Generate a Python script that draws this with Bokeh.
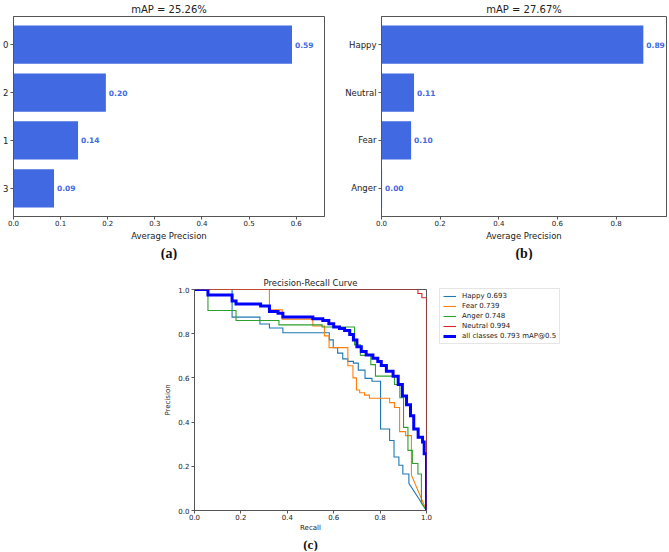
from bokeh.plotting import figure
from bokeh.models import (FactorRange, Range1d, Title, Legend, LegendItem,
                          PrintfTickFormatter, FixedTicker, Spacer, ColumnDataSource)
from bokeh.layouts import row, column
from bokeh.embed import file_html
from bokeh.resources import INLINE
from bokeh.core.properties import value

# ---------------- data ----------------
# (a) average precision per class id
a_classes = ["0", "2", "1", "3"]
a_ap = [0.591, 0.196, 0.137, 0.086]
a_title = "mAP = 25.26%"
a_ticks = [0.0, 0.1, 0.2, 0.3, 0.4, 0.5, 0.6]
a_xmax = 0.66

# (b) average precision per emotion
b_classes = ["Happy", "Neutral", "Fear", "Anger"]
b_ap = [0.893, 0.111, 0.101, 0.002]
b_title = "mAP = 27.67%"
b_ticks = [0.0, 0.2, 0.4, 0.6, 0.8]
b_xmax = 0.972

# (c) precision-recall curves (step breakpoints: recall where precision changes)
pr_names = ["Happy", "Fear", "Anger", "Neutral", "all classes"]
pr_ap = [0.693, 0.739, 0.748, 0.994, 0.793]

happy_r = [0, 0.162, 0.282, 0.323, 0.381, 0.581, 0.598, 0.617, 0.639, 0.661, 0.685,
           0.706, 0.735, 0.765, 0.802, 0.841, 0.860, 0.881, 0.898, 0.924, 1.0]
happy_p = [1.0, 0.875, 0.844, 0.826, 0.804, 0.772, 0.737, 0.712, 0.686, 0.675, 0.667,
           0.635, 0.598, 0.585, 0.369, 0.317, 0.242, 0.205, 0.165, 0.123, 0.0]

fear_r = [0, 0.323, 0.378, 0.51, 0.56, 0.58, 0.661, 0.683, 0.698, 0.712, 0.733, 0.754,
          0.841, 0.862, 0.884, 0.91, 0.935, 1.0]
fear_p = [1.0, 0.908, 0.866, 0.835, 0.79, 0.737, 0.655, 0.6, 0.545, 0.533, 0.522, 0.508,
          0.488, 0.466, 0.357, 0.339, 0.16, 0.0]

anger_r = [0, 0.058, 0.179, 0.364, 0.55, 0.69, 0.715, 0.76, 0.78, 0.862, 0.885, 0.901,
           0.92, 0.939, 0.963, 0.978, 1.0]
anger_p = [1.0, 0.905, 0.86, 0.84, 0.83, 0.75, 0.702, 0.66, 0.608, 0.57, 0.51, 0.376,
           0.272, 0.213, 0.165, 0.034, 0.0]

neutral_r = [0, 0.963, 0.98, 1.0]
neutral_p = [1.0, 0.982, 0.963, 0.0]

all_r = [0, 0.058, 0.162, 0.179, 0.285, 0.323, 0.36, 0.381, 0.51, 0.553, 0.579, 0.60,
         0.625, 0.647, 0.669, 0.685, 0.70, 0.719, 0.74, 0.769, 0.79, 0.805, 0.827, 0.856,
         0.878, 0.896, 0.914, 0.931, 0.945, 0.964, 0.983, 0.99, 1.0]
all_p = [1.0, 0.975, 0.948, 0.934, 0.925, 0.9, 0.893, 0.876, 0.868, 0.86, 0.845, 0.83,
         0.823, 0.815, 0.796, 0.771, 0.741, 0.719, 0.704, 0.689, 0.674, 0.656, 0.63, 0.607,
         0.57, 0.518, 0.478, 0.429, 0.369, 0.332, 0.31, 0.257, 0.0]

pr_ticks = [0.0, 0.2, 0.4, 0.6, 0.8, 1.0]

BAR = "#4169e1"
AXC = "#555555"
TXT = "#222222"
FONT = "DejaVu Sans"


def style_axes(p, xsize, ysize):
    for ax in (p.xaxis[0], p.yaxis[0]):
        ax.axis_line_color = AXC
        ax.major_tick_line_color = AXC
        ax.minor_tick_line_color = None
        ax.major_tick_out = 3
        ax.major_tick_in = 0
        ax.major_label_standoff = 2
        ax.major_label_text_font = FONT
        ax.major_label_text_color = TXT
        ax.axis_label_text_font = FONT
        ax.axis_label_text_font_style = "normal"
        ax.axis_label_text_color = TXT
    p.xaxis.major_label_text_font_size = xsize
    p.yaxis.major_label_text_font_size = ysize
    p.xaxis.major_label_standoff = 0
    p.xgrid.visible = False
    p.ygrid.visible = False
    p.outline_line_color = AXC
    p.outline_line_alpha = 1.0
    p.title.align = "center"
    p.title.text_font = FONT
    p.title.text_font_style = "normal"
    p.title.text_color = TXT
    p.title.standoff = 3


def bar_panel(classes, ap, title, xmax, xticks, caption, lb, fw, rb):
    p = figure(
        y_range=FactorRange(factors=classes[::-1], range_padding=0.09,
                            range_padding_units="absolute"),
        x_range=Range1d(0, xmax),
        frame_width=fw, frame_height=200,
        min_border_left=lb, min_border_right=rb, min_border_top=0, min_border_bottom=0,
        output_backend="svg", toolbar_location=None, title=title,
    )
    src = ColumnDataSource(dict(cls=classes, ap=ap, lbl=[f"{v:.2f}" for v in ap]))
    p.hbar(y="cls", left=0, right="ap", height=0.8, source=src,
           fill_color=BAR, line_color=None)
    p.text(x="ap", y="cls", text="lbl", source=src, x_offset=3,
           text_baseline="middle", text_align="left",
           text_font=value(FONT), text_font_style="bold",
           text_font_size="7.5px", text_color=BAR)
    style_axes(p, "7px", "8.5px")
    p.title.text_font_size = "10px"
    p.xaxis.ticker = FixedTicker(ticks=xticks)
    p.xaxis.formatter = PrintfTickFormatter(format="%.1f")
    p.xaxis.axis_label = "Average Precision"
    p.xaxis.axis_label_text_font_size = "8.5px"
    p.xaxis.axis_label_standoff = 2
    p.add_layout(Title(text=caption, align="center", text_font="Liberation Serif",
                       text_font_style="bold", text_font_size="14px",
                       text_color="#111111", standoff=0), "below")
    return p


pa = bar_panel(a_classes, a_ap, a_title, a_xmax, a_ticks, "(a)", 11, 311, 15)
pb = bar_panel(b_classes, b_ap, b_title, b_xmax, b_ticks, "(b)", 42, 285, 3)


def pr_path(r, p, linear_tail):
    xs, ys = [r[0]], [p[0]]
    n = len(r)
    last = n - 1 if linear_tail else n
    for i in range(1, last):
        xs += [r[i], r[i]]
        ys += [p[i - 1], p[i]]
    if linear_tail:
        xs.append(r[-1])
        ys.append(p[-1])
    return xs, ys


FH = 221
pc = figure(
    x_range=Range1d(0, 1), y_range=Range1d(0, 1),
    frame_width=232, frame_height=FH,
    min_border_left=0, min_border_right=0, min_border_top=0, min_border_bottom=0,
    output_backend="svg", toolbar_location=None, title="Precision-Recall Curve",
)
style_axes(pc, "7px", "7px")
pc.title.text_font_size = "8.5px"
pc.xaxis.ticker = FixedTicker(ticks=pr_ticks)
pc.yaxis.ticker = FixedTicker(ticks=pr_ticks)
pc.xaxis.formatter = PrintfTickFormatter(format="%.1f")
pc.yaxis.formatter = PrintfTickFormatter(format="%.1f")
pc.xaxis.axis_label = "Recall"
pc.yaxis.axis_label = "Precision"
pc.xaxis.axis_label_text_font_size = "7px"
pc.yaxis.axis_label_text_font_size = "7px"
pc.xaxis.axis_label_standoff = 1
pc.yaxis.axis_label_standoff = 3

curves = [
    (happy_r, happy_p, True, "#1f77b4", 1.1),
    (fear_r, fear_p, True, "#ff7f0e", 1.1),
    (anger_r, anger_p, True, "#2ca02c", 1.1),
    (neutral_r, neutral_p, False, "#d62728", 1.1),
    (all_r, all_p, False, "#0000ff", 3),
]
items = []
for (r, pp, tail, col, lw), name, ap in zip(curves, pr_names, pr_ap):
    xs, ys = pr_path(r, pp, tail)
    rend = pc.line(xs, ys, line_color=col, line_width=lw, line_join="miter")
    label = f"{name} {ap:.3f}" + (" mAP@0.5" if name == "all classes" else "")
    items.append(LegendItem(label=label, renderers=[rend]))

legend = Legend(items=items, location=(13, FH - 3 - 52), margin=0, padding=3,
                spacing=2, glyph_width=13, glyph_height=8, label_height=8,
                label_standoff=6, label_text_font=FONT, label_text_font_size="7px",
                label_text_color=TXT, border_line_color="#cccccc",
                background_fill_alpha=0.9)
pc.add_layout(legend, "right")
pc.min_border_right = 135
pc.add_layout(Title(text="(c)", align="center", text_font="Liberation Serif",
                    text_font_style="bold", text_font_size="13px",
                    text_color="#111111", standoff=0), "below")

layout = column(row(pa, pb), Spacer(height=14), row(Spacer(width=161), pc))

open("out.html", "w").write(file_html(layout, INLINE))
